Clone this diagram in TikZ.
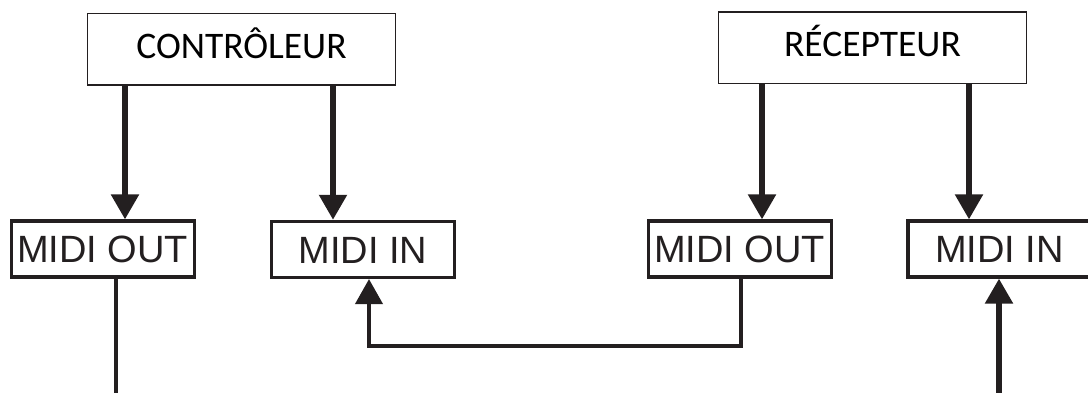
\documentclass[tikz,border=0pt]{standalone}
\usepackage{fontspec}
\setmainfont{Carlito}
\newfontfamily\arialf{Liberation Sans}
\usetikzlibrary{arrows.meta}
\definecolor{ink}{HTML}{231F20}
\begin{document}
\begin{tikzpicture}[x=1pt,y=-1pt,
  topbox/.style={draw=ink, line width=1.7pt, inner sep=0pt,
    minimum width=308pt, minimum height=71.5pt,
    font=\fontsize{37.5}{42}\selectfont, text=black,
    text height=24.2pt, text depth=6pt},
  midibox/.style={draw=ink, line width=3.3pt, inner sep=0pt,
    minimum width=183pt, minimum height=56pt,
    font=\arialf\fontsize{38}{42}\selectfont, text=ink,
    text height=27.2pt, text depth=0pt},
  arr/.style={draw=ink, line width=5.5pt, -{Triangle[width=27pt,length=25pt]}},
  loopline/.style={draw=ink, line width=4pt, -{Triangle[width=27pt,length=25pt]}},
  thinline/.style={draw=ink, line width=3.3pt}
]
\useasboundingbox (0,0) rectangle (1088,392);

% top boxes
\node[topbox] (ctrl) at (241.5,49.3) {CONTRÔLEUR};
\node[topbox] (recv) at (872.5,47.6) {RÉCEPTEUR};

% MIDI boxes
\node[midibox] (mol) at (102.7,249) {MIDI OUT};
\node[midibox] (mil) at (363,249.4) {MIDI IN};
\node[midibox] (mor) at (739.7,249) {MIDI OUT};
\node[midibox] (mir) at (999.5,249) {MIDI IN};

% free ends
\coordinate (endL) at (116,395);
\coordinate (endR) at (999,395);
\coordinate (loopA) at (741,346);
\coordinate (loopB) at (369,346);

% arrows from top boxes
\draw[arr] (ctrl.south -| 125,0) -- (mol.north -| 125,0);
\draw[arr] (ctrl.south -| 333,0) -- (mil.north -| 333,0);
\draw[arr] (recv.south -| 762,0) -- (mor.north -| 762,0);
\draw[arr] (recv.south -| 969,0) -- (mir.north -| 969,0);

% MIDI OUT (left) down
\draw[thinline] (mol.south -| endL) -- (endL);

% loop MIDI OUT (right) -> MIDI IN (left)
\draw[loopline] (mor.south -| loopA) -- (loopA) -- (loopB) -- (mil.south -| loopB);

% from bottom up into MIDI IN (right)
\draw[arr] (endR) -- (mir.south -| endR);
\end{tikzpicture}
\end{document}
